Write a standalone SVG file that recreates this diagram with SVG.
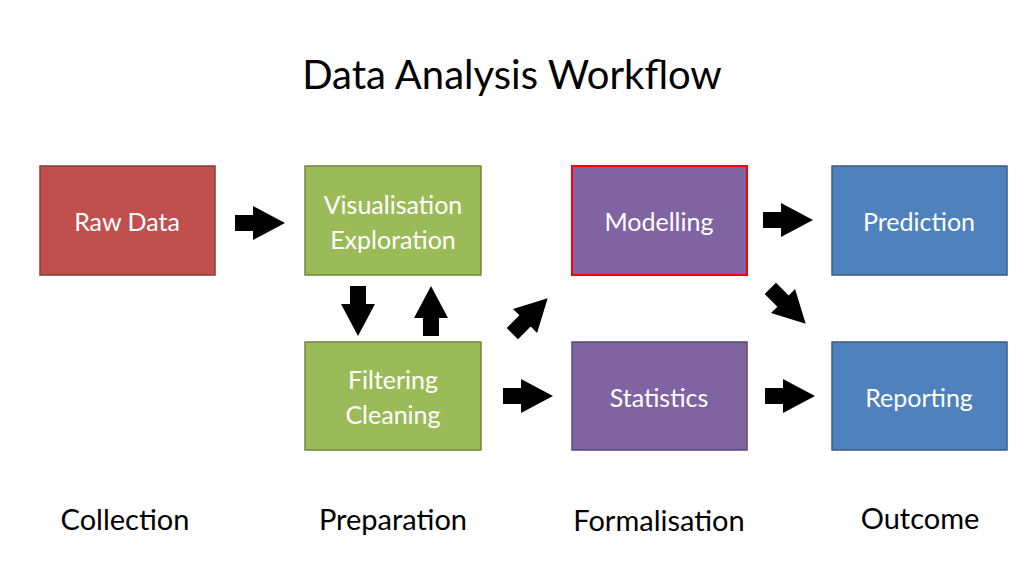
<svg xmlns="http://www.w3.org/2000/svg" width="1024" height="575" viewBox="0 0 1024 575">
<style>
text{font-family:Lato,"Open Sans","Liberation Sans",sans-serif}
.t{fill:#fff;font-size:25px;text-anchor:middle}
.l{fill:#000;font-size:29px;text-anchor:middle}
.r{fill:#C0504D;stroke:#8C3836;stroke-width:1.5}
.g{fill:#9BBB59;stroke:#71893F;stroke-width:1.5}
.p{fill:#8064A2;stroke:#5C4776;stroke-width:1.5}
.b{fill:#4F81BD;stroke:#385D8A;stroke-width:1.5}
</style>
<defs><path id="a" d="M-25,-8H-7V-17L25,0L-7,17V8H-25Z" fill="#000"/></defs>
<rect width="1024" height="575" fill="#fff"/>
<text x="512" y="89" font-size="40" text-anchor="middle" style="font-family:Lato,'Open Sans',sans-serif">Data Analysis Workflow</text>
<g id="raw"><rect class="r" x="40" y="166" width="175" height="109"/><text class="t" x="127" y="231">Raw Data</text></g>
<g id="vis"><rect class="g" x="305" y="166" width="176" height="109"/><text class="t" x="393" y="214">Visualisation</text><text class="t" x="393" y="249">Exploration</text></g>
<g id="mod"><rect x="572" y="166" width="175" height="109" fill="#8064A2" stroke="#FF0000" stroke-width="2"/><text class="t" x="659" y="231">Modelling</text></g>
<g id="pred"><rect class="b" x="832" y="166" width="175" height="109"/><text class="t" x="919" y="231">Prediction</text></g>
<g id="filt"><rect class="g" x="305" y="342" width="176" height="108"/><text class="t" x="393" y="389">Filtering</text><text class="t" x="393" y="424">Cleaning</text></g>
<g id="stat"><rect class="p" x="572" y="342" width="175" height="108"/><text class="t" x="659" y="407">Statistics</text></g>
<g id="rep"><rect class="b" x="832" y="342" width="175" height="108"/><text class="t" x="919" y="407">Reporting</text></g>
<g id="labels"><text class="l" x="125" y="530">Collection</text><text class="l" x="393" y="530">Preparation</text><text class="l" x="659" y="531">Formalisation</text><text class="l" x="920" y="529">Outcome</text></g>
<g id="connectors">
<use href="#a" transform="translate(260,223)"/>
<use href="#a" transform="translate(358,311) rotate(90)"/>
<use href="#a" transform="translate(431,311) rotate(-90)"/>
<use href="#a" transform="translate(530,316) rotate(-45)"/>
<use href="#a" transform="translate(528,396)"/>
<use href="#a" transform="translate(788,220)"/>
<use href="#a" transform="translate(788,306) rotate(45)"/>
<use href="#a" transform="translate(790,396)"/>
</g>
</svg>
